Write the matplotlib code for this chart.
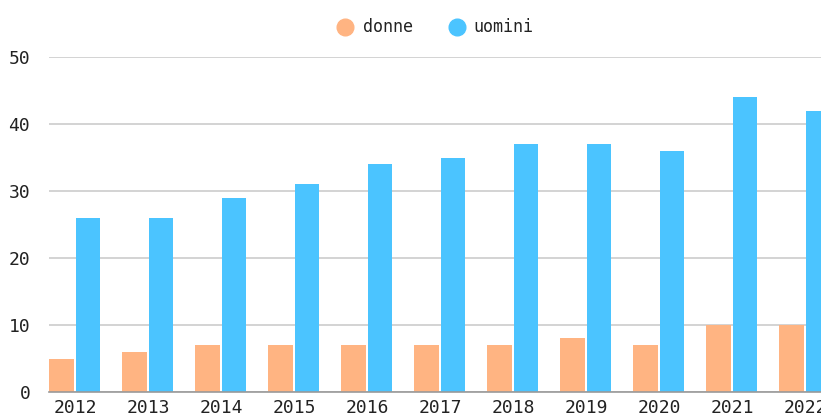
import matplotlib
matplotlib.use("Agg")
import matplotlib.pyplot as plt
import numpy as np
from matplotlib.lines import Line2D

years = ["2012", "2013", "2014", "2015", "2016", "2017", "2018", "2019", "2020", "2021", "2022"]
donne = [5, 6, 7, 7, 7, 7, 7, 8, 7, 10, 10]
uomini = [26, 26, 29, 31, 34, 35, 37, 37, 36, 44, 42]
series_names = ["donne", "uomini"]

c_donne = "#FFB482"
c_uomini = "#4BC4FF"

plt.rcParams['font.family'] = ['DejaVu Sans Mono']

W, H = 821, 417
fig = plt.figure(figsize=(W / 100, H / 100), dpi=100)
left, right = 49, 821
bottom, top = 392, 57
ax = fig.add_axes([left / W, (H - bottom) / H, (right - left) / W, (bottom - top) / H])

x = np.arange(len(years))
w = 0.34
ax.bar(x - 0.183, donne, width=w, color=c_donne, zorder=3)
ax.bar(x + 0.178, uomini, width=w, color=c_uomini, zorder=3)

ax.set_xlim(-0.356, 10.22)
ax.set_ylim(0, 50)
ax.set_yticks([0, 10, 20, 30, 40, 50])
ax.set_xticks(x)
ax.set_xticklabels(years)
ax.grid(axis='y', color='#cccccc', linewidth=1.2, zorder=0)
ax.tick_params(length=0, labelsize=13, colors='#222222')
ax.tick_params(axis='y', pad=13.5)
ax.tick_params(axis='x', pad=5)
for s in ['top', 'right', 'left']:
    ax.spines[s].set_visible(False)
ax.spines['bottom'].set_color('#999999')
ax.spines['bottom'].set_linewidth(1.2)
ax.spines['bottom'].set_zorder(4)

# legend drawn manually
ly = 1 - 27 / H
for cx, tx, col, name in [(345, 363, c_donne, series_names[0]), (457, 473, c_uomini, series_names[1])]:
    fig.add_artist(Line2D([cx / W], [ly], marker='o', linestyle='', markersize=12,
                          color=col, transform=fig.transFigure))
    fig.text(tx / W, ly, name, ha='left', va='center', fontsize=12, color='#222222')

fig.savefig("out.png", dpi=100)
